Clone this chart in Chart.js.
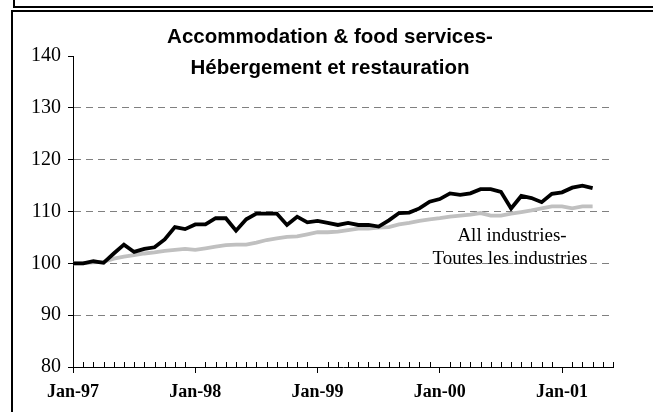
<!DOCTYPE html>
<html>
<head>
<meta charset="utf-8">
<script src="https://cdn.jsdelivr.net/npm/chart.js@4.4.1/dist/chart.umd.min.js"></script>
<style>
  html, body { margin: 0; padding: 0; background: #fff; }
  body { width: 653px; height: 412px; position: relative; overflow: hidden; }
  .topbox { position: absolute; left: 13px; top: -10px; width: 700px; height: 14px; border: 2px solid #000; }
  .frame { position: absolute; left: 11px; top: 10px; width: 700px; height: 450px; border: 2px solid #000; }
  #wrap { position: absolute; left: 0; top: 0; width: 653px; height: 412px; }
</style>
</head>
<body>
<div class="topbox"></div>
<div class="frame"></div>
<div id="wrap"><canvas id="myChart" width="653" height="412"></canvas></div>
<script>
const years = ["97", "98", "99", "00", "01"];
const monthNames = ["Jan", "Feb", "Mar", "Apr", "May", "Jun", "Jul", "Aug", "Sep", "Oct", "Nov", "Dec"];
const xTickLabels = ["Jan-97", "Jan-98", "Jan-99", "Jan-00", "Jan-01"];
const yTicks = [80, 90, 100, 110, 120, 130, 140];

// Jan-97 .. Apr-01 is data, axis runs on to Jun-01
const categories = [];
years.forEach(y => monthNames.forEach(m => categories.push(m + "-" + y)));
categories.length = 54;

const accommodation = [
    100, 100, 100.4, 100.1, 101.9, 103.6, 102.2, 102.8, 103.1, 104.6, 107.0, 106.6,
    107.5, 107.5, 108.7, 108.7, 106.3, 108.5, 109.6, 109.6, 109.6, 107.4, 109.0, 107.9,
    108.2, 107.8, 107.4, 107.8, 107.4, 107.4, 107.1, 108.3, 109.7, 109.8, 110.6, 111.9,
    112.4, 113.5, 113.2, 113.5, 114.3, 114.3, 113.8, 110.6, 113.0, 112.6, 111.8, 113.4,
    113.7, 114.6, 115.0, 114.5
];
const allIndustries = [
    100, 100, 100.2, 100.3, 100.9, 101.3, 101.6, 101.9, 102.1, 102.4, 102.6, 102.8,
    102.6, 102.9, 103.2, 103.5, 103.6, 103.6, 104.0, 104.5, 104.8, 105.1, 105.2, 105.6,
    106.0, 106.0, 106.1, 106.4, 106.7, 106.7, 106.9, 107.0, 107.5, 107.8, 108.2, 108.5,
    108.7, 109.0, 109.2, 109.4, 109.7, 109.2, 109.2, 109.6, 109.9, 110.2, 110.6, 111.0,
    111.0, 110.6, 111.0, 111.0
];

const serif = "'Liberation Serif', 'Times New Roman', serif";
const sans = "'Liberation Sans', Arial, sans-serif";

const extras = {
    id: "extras",
    afterDraw(chart) {
        const ctx = chart.ctx;
        const x = chart.scales.x;
        const bottom = chart.chartArea.bottom;
        ctx.save();
        // minor month ticks inside the plot
        ctx.strokeStyle = "#000";
        ctx.lineWidth = 1;
        ctx.beginPath();
        for (let i = 1; i < categories.length; i++) {
            if (i % 12 === 0) continue;
            const px = Math.round(x.getPixelForValue(i)) + 0.5;
            ctx.moveTo(px, bottom);
            ctx.lineTo(px, bottom - 5);
        }
        ctx.stroke();

        // title
        ctx.fillStyle = "#000";
        ctx.textAlign = "center";
        ctx.textBaseline = "middle";
        ctx.font = "bold 20.5px " + sans;
        ctx.fillText("Accommodation & food services-", 330, 37);
        ctx.fillText("Hébergement et restauration", 330, 68);

        // label for the grey line
        ctx.font = "19px " + serif;
        ctx.fillText("All industries-", 512, 236);
        ctx.fillText("Toutes les industries", 510, 259);
        ctx.restore();
    }
};

const ctx = document.getElementById("myChart").getContext("2d");
const myChart = new Chart(ctx, {
    type: "line",
    data: {
        labels: categories,
        datasets: [
            {
                label: "Accommodation & food services",
                data: accommodation,
                borderColor: "#000",
                borderWidth: 3.8,
                pointRadius: 0,
                tension: 0,
            },
            {
                label: "All industries",
                data: allIndustries,
                borderColor: "#c0c0c0",
                borderWidth: 3.8,
                pointRadius: 0,
                tension: 0,
            },
        ],
    },
    options: {
        responsive: false,
        animation: false,
        devicePixelRatio: 1,
        layout: { padding: { left: 12, right: 40, top: 56, bottom: 0 } },
        plugins: { legend: { display: false }, tooltip: { enabled: false } },
        scales: {
            x: {
                type: "category",
                offset: false,
                afterFit: (s) => { s.height = 45; },
                border: { display: true, color: "#000", width: 1 },
                grid: {
                    drawOnChartArea: false,
                    tickLength: 6,
                    tickColor: (c) => (c.index % 12 === 0 ? "#000" : "rgba(0,0,0,0)"),
                },
                ticks: {
                    autoSkip: false,
                    maxRotation: 0,
                    padding: 9,
                    color: "#000",
                    font: { family: serif, size: 18, weight: "bold" },
                    callback: function (v) {
                        const lab = this.getLabelForValue(v);
                        return xTickLabels.includes(lab) ? lab : "";
                    },
                },
            },
            y: {
                min: 80,
                max: 140,
                afterFit: (s) => { s.width = 61; },
                afterBuildTicks: (s) => { s.ticks = yTicks.map(v => ({ value: v })); },
                border: { display: true, color: "#000", width: 1, dash: [7, 5] },
                grid: {
                    color: (c) => (c.tick && (c.tick.value === 80 || c.tick.value === 140) ? "rgba(0,0,0,0)" : "#808080"),
                    tickColor: "#000",
                    tickLength: 5,
                    tickBorderDash: [],
                },
                ticks: {
                    color: "#000",
                    padding: 7,
                    font: { family: serif, size: 20 },
                },
            },
        },
    },
    plugins: [extras],
});
</script>
</body>
</html>
